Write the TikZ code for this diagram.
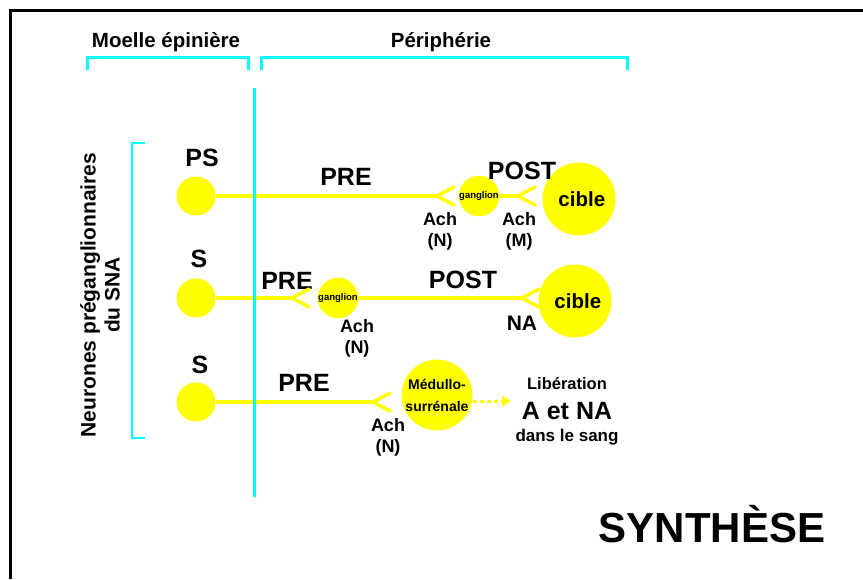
\documentclass[tikz,border=0pt]{standalone}
\usepackage{fontspec}
\setmainfont{Liberation Sans}
\usepackage{xcolor}
\definecolor{cellyellow}{RGB}{255,255,0}
\definecolor{aqua}{RGB}{0,255,255}
\usepackage{tikz}
\usetikzlibrary{arrows.meta,positioning,calc}

\tikzset{
  cell/.style={circle, fill=cellyellow, inner sep=0pt, minimum size=39},
  cibl/.style={circle, fill=cellyellow, inner sep=0pt, minimum size=73, font=\bfseries\fontsize{20.5}{24}\selectfont},
  gangl/.style={circle, fill=cellyellow, inner sep=0pt, minimum size=38, font=\bfseries\fontsize{9.5}{11}\selectfont},
  lbl/.style={font=\bfseries\fontsize{25}{30}\selectfont, inner sep=0pt},
  nt/.style={font=\bfseries\fontsize{18}{21}\selectfont, align=center, inner sep=0pt},
  ttl/.style={font=\bfseries\fontsize{20.5}{24}\selectfont, inner sep=0pt},
  axon/.style={cellyellow, line width=3.5pt},
  forkline/.style={cellyellow, line width=3.5pt, line cap=round, line join=round},
  cyanline/.style={aqua, line width=3pt},
}
\newcommand{\synfork}[1]{\draw[forkline] ([shift={(17,-9)}]#1) -- (#1) -- ([shift={(17,9)}]#1);}

\begin{document}
\begin{tikzpicture}[x=1pt, y=-1pt]
  \useasboundingbox (0,0) rectangle (863,579);
  % frame
  \draw[line width=2.5pt] (10.5,579) -- (10.5,10.5) -- (863,10.5);

  % titles and brackets
  \node[ttl] (moelle) at (166,42) {Moelle épinière};
  \node[ttl] (periph) at (441,42) {Périphérie};
  \draw[cyanline] (87,70) -- (87,57) -- (248,57) -- (248,70);
  \draw[cyanline] (261,70) -- (261,57) -- (627,57) -- (627,70);
  \coordinate (top) at (254,88);
  \coordinate (bot) at (254,497);
  \draw[cyanline] (top) -- (bot);

  % preganglionic neurons
  \node[font=\bfseries\fontsize{21}{24}\selectfont, align=center, rotate=90, inner sep=0pt] (neur) at (100,295) {Neurones préganglionnaires\\du SNA};
  \draw[aqua, line width=2pt] (145,143) -- (132,143) -- (132,438) -- (145,438);

  % row 1 : parasympathique
  \node[cell] (ps) at (196,196) {};
  \node[lbl] (pslbl) at (202,158) {PS};
  \coordinate (f1) at (437,196);
  \node[gangl] (g1) at (479,196) {ganglion};
  \coordinate (f2) at (518,196);
  \node[cibl] (c1) at (579,199) {\raisebox{-3pt}{\ cible}};
  \node[lbl] (pre1) at (346,177) {PRE};
  \node[lbl] (post1) at (522,171) {POST};
  \node[nt] (ach1) at (440,231.5) {Ach\\(N)};
  \node[nt] (achm) at (519,231.5) {Ach\\(M)};

  % row 2 : sympathique
  \node[cell] (s1) at (196,298) {};
  \node[lbl] (s1lbl) at (199,259) {S};
  \coordinate (f3) at (292,298);
  \node[gangl] (g2) at (338,298) {ganglion};
  \coordinate (f4) at (522,298);
  \node[cibl] (c2) at (575,301) {\raisebox{-3pt}{\ cible}};
  \node[lbl] (pre2) at (287,281) {PRE};
  \node[lbl] (post2) at (463,280) {POST};
  \node[nt] (ach2) at (357,338) {Ach\\(N)};
  \node[font=\bfseries\fontsize{21}{24}\selectfont, inner sep=0pt] (na) at (522,323) {NA};

  % row 3 : medullosurrenale
  \node[cell] (s2) at (196,402) {};
  \node[lbl] (s2lbl) at (200,365) {S};
  \coordinate (f5) at (373,402);
  \node[circle, fill=cellyellow, inner sep=0pt, minimum size=70, align=center, font=\bfseries\fontsize{14}{22}\selectfont] (ms) at (437,395) {Médullo-\\surrénale};
  \node[lbl] (pre3) at (304,383) {PRE};
  \node[nt] (ach3) at (388,437.5) {Ach\\(N)};
  \coordinate (rel) at (511,401);
  \node[font=\bfseries\fontsize{16.5}{20}\selectfont, inner sep=0pt] (lib) at (567,384) {Libération};
  \node[lbl] (aetna) at (567,411) {A et NA};
  \node[font=\bfseries\fontsize{17}{20}\selectfont, inner sep=0pt] (sang) at (567,437) {dans le sang};

  % axons
  \draw[axon] (ps) -- (f1);
  \draw[axon] (g1) -- (f2);
  \draw[axon] (s1) -- (f3);
  \draw[axon] (g2) -- (f4);
  \draw[axon] (s2) -- (f5);
  \synfork{f1}
  \synfork{f2}
  \synfork{f3}
  \synfork{f4}
  \synfork{f5}
  \draw[cellyellow, line width=3pt, dash pattern=on 4pt off 3pt, -{Triangle[length=9pt,width=10pt]}] ([yshift=-6pt]ms.east) -- (rel);
  \draw[cyanline] (254,190) -- (254,202);
  \draw[cyanline] (254,292) -- (254,304);
  \draw[cyanline] (254,396) -- (254,408);

  \node[font=\bfseries\fontsize{42}{50}\selectfont, inner sep=0pt] (synth) at (712,524) {SYNTHÈSE};
\end{tikzpicture}
\end{document}
